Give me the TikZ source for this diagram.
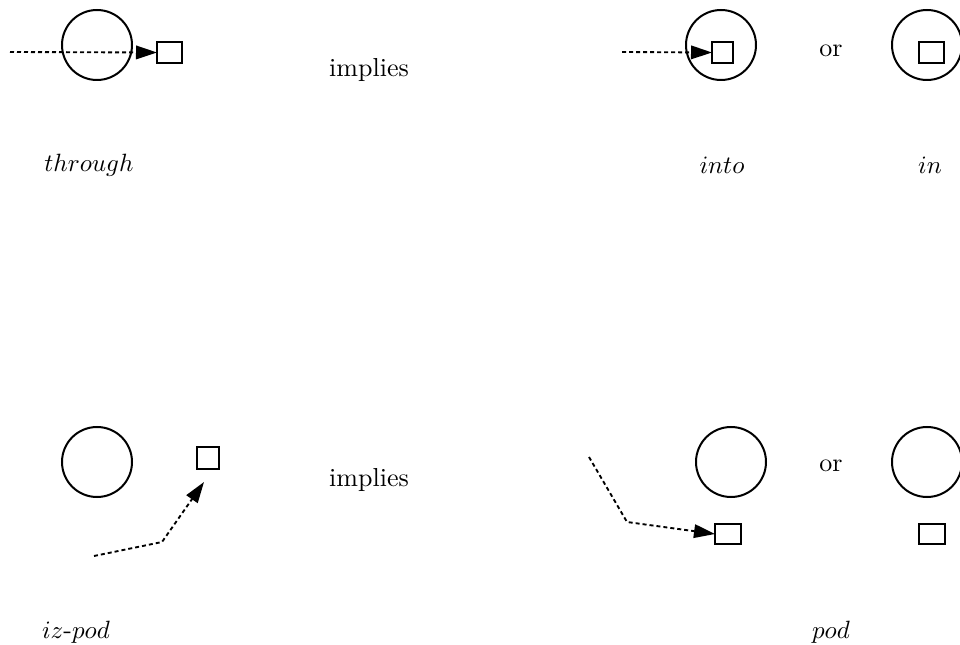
\documentclass[tikz,border=0pt]{standalone}
\usetikzlibrary{arrows.meta}
\begin{document}
\begin{tikzpicture}[x=0.4pt,y=-0.4pt,
  ball/.style={circle,draw,line width=0.8pt,minimum size=28pt,inner sep=0pt,outer sep=0pt},
  box/.style={rectangle,draw,line width=0.8pt,inner sep=0pt,outer sep=0pt,minimum width=10pt,minimum height=8.4pt},
  path/.style={line width=0.75pt,dash pattern=on 1.6pt off 1.2pt,-{Triangle[length=8.4pt,width=5.4pt]}},
  plain/.style={inner sep=0pt,font=\fontsize{10.4}{12}\selectfont}]
\useasboundingbox (0,0) rectangle (960,645);
% top left
\node[ball] (c1) at (97,45) {};
\node[box] (s1) at (169.5,52.5) {};
\coordinate (a1) at (10,52);
\draw[path] (a1) -- (s1.west);
\node[plain] (imp1) at (369,70) {implies};
% top right
\node[ball] (c2) at (721,45) {};
\node[box,minimum width=8.4pt] (s2) at (722.5,52.5) {};
\coordinate (a2) at (622,52);
\draw[path] (a2) -- (s2.west);
\node[plain] (or1) at (831,51) {or};
\node[ball] (c3) at (927,45) {};
\node[box] (s3) at (931.5,52.5) {};
% labels top
\node[plain] (l1) at (89,165) {$through$};
\node[plain] (l2) at (722,165) {$into$};
\node[plain] (l3) at (930,165) {$in$};
% bottom left
\node[ball] (c4) at (97,462) {};
\node[box,minimum width=8.8pt,minimum height=8.8pt] (s4) at (208,458) {};
\coordinate (b1) at (94,556);
\coordinate (b2) at (162,542);
\coordinate (b3) at (204,482);
\draw[path] (b1) -- (b2) -- (b3);
\node[plain] (imp2) at (369,480) {implies};
% bottom right
\node[ball] (c5) at (731,462) {};
\node[box,minimum width=10.4pt,minimum height=8pt] (s5) at (728,534) {};
\coordinate (d1) at (589,457);
\coordinate (d2) at (627,522);
\draw[path] (d1) -- (d2) -- (s5.west);
\node[plain] (or2) at (831,466) {or};
\node[ball] (c6) at (927,462) {};
\node[box,minimum width=10.4pt,minimum height=8pt] (s6) at (932,534) {};
% labels bottom
\node[plain] (l4) at (76,632) {$iz$-$pod$};
\node[plain] (l5) at (831,632) {$pod$};
\end{tikzpicture}
\end{document}
